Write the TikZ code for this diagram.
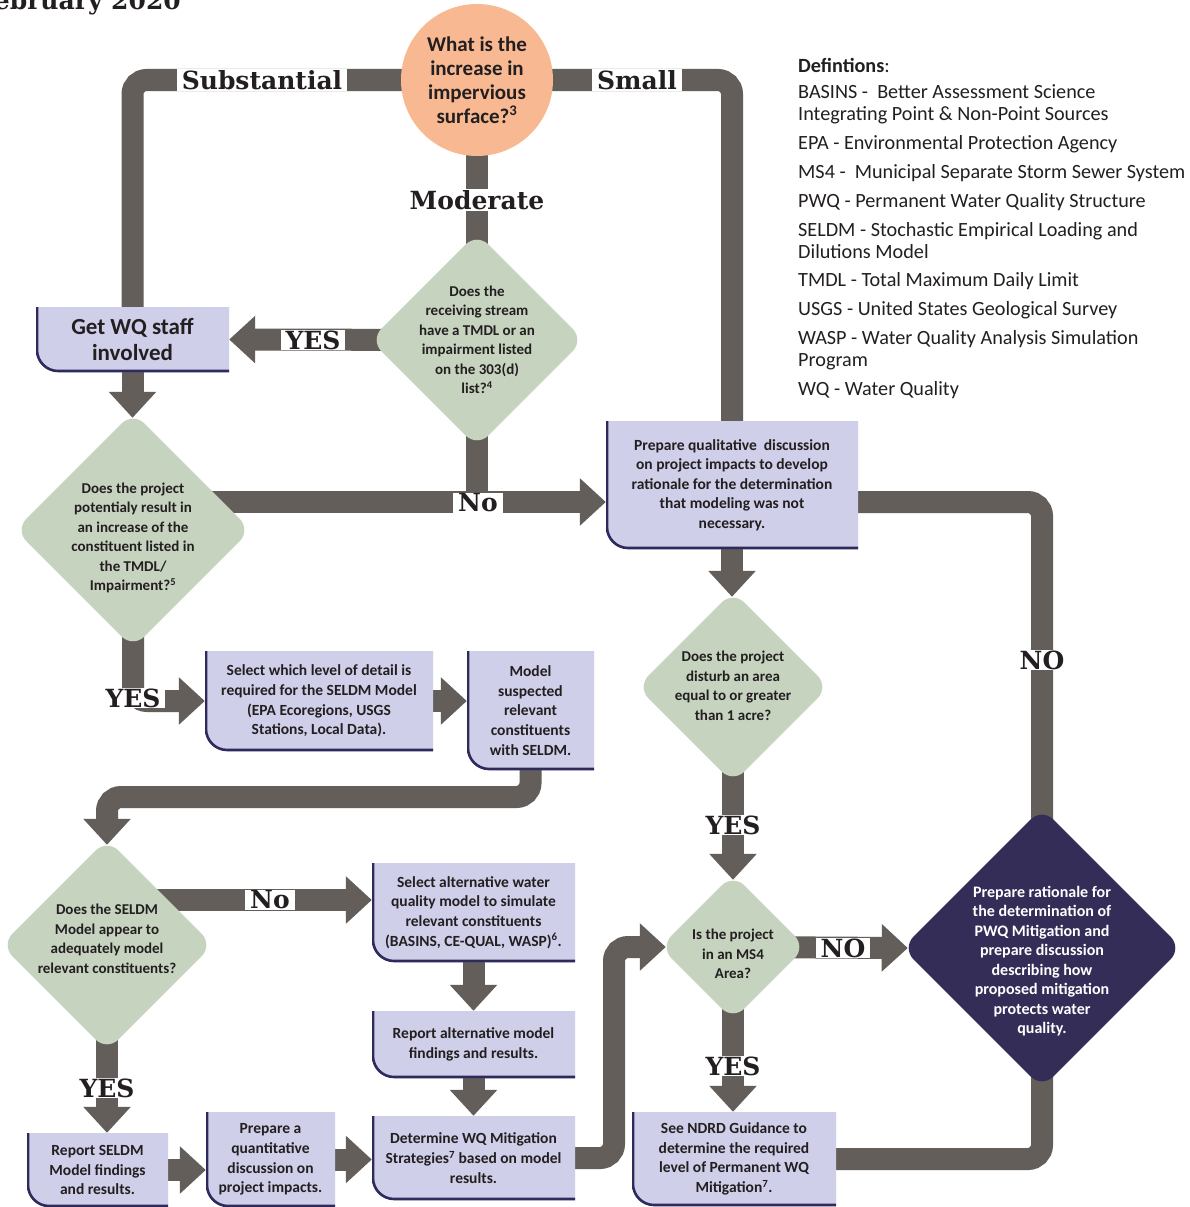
\documentclass[tikz,border=0pt]{standalone}
\usepackage{fontspec}
\setmainfont{Carlito}
\newfontfamily\slab{DejaVu Serif}
\usetikzlibrary{shapes.geometric,arrows.meta}
\pgfdeclarelayer{bg}
\pgfsetlayers{bg,main}
\definecolor{lineclr}{HTML}{635E59}
\definecolor{peach}{HTML}{F8B992}
\definecolor{sage}{HTML}{C6D3BF}
\definecolor{lav}{HTML}{CFCFE9}
\definecolor{navy}{HTML}{2E2A5C}
\definecolor{darkdia}{HTML}{342D57}
\definecolor{txt}{HTML}{231F20}
\tikzset{
  conn/.style={draw=lineclr, line width=22pt, rounded corners=14pt},
  arr/.style={conn, -{Triangle[width=46pt,length=26pt]}},
  lab/.style={fill=white, text=txt, font=\slab\bfseries\fontsize{25}{28}\selectfont, inner xsep=5pt, inner ysep=1pt},
  dia/.style={diamond, aspect=1, fill=sage, rounded corners=16pt, inner sep=0pt, minimum width=#1, minimum height=#1},
  dtext/.style={align=center, text=txt, font=\bfseries\fontsize{15}{19.5}\selectfont, inner sep=0pt},
  lbox/.style n args={2}{rectangle, inner sep=0pt, minimum width=#1, minimum height=#2, align=center, text=txt,
    font=\bfseries\fontsize{15.5}{19.6}\selectfont,
    path picture={
      \coordinate (nw) at (path picture bounding box.north west);
      \coordinate (ne) at (path picture bounding box.north east);
      \coordinate (se) at (path picture bounding box.south east);
      \coordinate (sw) at (path picture bounding box.south west);
      \fill[lav] (nw) -- (ne) -- (se) -- ([xshift=22pt]sw) .. controls ([xshift=9.85pt]sw) and ([yshift=9.85pt]sw) .. ([yshift=22pt]sw) -- cycle;
      \draw[navy, line width=2.6pt] ([xshift=1pt]nw) -- ([shift={(1pt,22pt)}]sw) .. controls ([shift={(1pt,10.5pt)}]sw) and ([shift={(10.5pt,1pt)}]sw) .. ([shift={(22pt,1pt)}]sw) -- ([yshift=1pt]se);
    }},
}
\begin{document}
\begin{tikzpicture}[x=1pt,y=-1pt]
\useasboundingbox (0,0) rectangle (1190,1207);

% title fragment
\node[anchor=base east, inner sep=0pt, text=txt, font=\slab\bfseries\fontsize{25}{30}\selectfont] (title) at (181,10) {February 2020};

% start circle
\node[circle, fill=peach, minimum size=152pt, inner sep=0pt, align=center, text=txt,
  font=\bfseries\fontsize{21}{24}\selectfont] (q0) at (477,80) {What is the\\increase in\\impervious\\surface?\textsuperscript{3}};

% diamonds
\node[dia=214pt] (d1) at (477,340) {};
\node[dtext] (d1t) at (477,340) {Does the\\receiving stream\\have a TMDL or an\\impairment listed\\on the 303(d)\\list?\textsuperscript{4}};
\node[dia=236pt] (d2) at (133,530) {};
\node[dtext] (d2t) at (133,538) {Does the project\\potentialy result in\\an increase of the\\constituent listed in\\the TMDL/\\Impairment?\textsuperscript{5}};
\node[dia=192pt] (d3) at (733,687) {};
\node[dtext] (d3t) at (733,686) {Does the project\\disturb an area\\equal to or greater\\than 1 acre?};
\node[dia=146pt] (d4) at (733,947) {};
\node[dtext] (d4t) at (733,954) {Is the project\\in an MS4\\Area?};
\node[dia=212pt] (d5) at (107,945) {};
\node[dtext] (d5t) at (107,939) {Does the SELDM\\Model appear to\\adequately model\\relevant constituents?};
\node[dia=280pt, fill=darkdia] (d6) at (1042,948) {};
\node[dtext, text=white, font=\bfseries\fontsize{16}{19.5}\selectfont] (d6t) at (1042,961) {Prepare rationale for\\the determination of\\PWQ Mitigation and\\prepare discussion\\describing how\\proposed mitigation\\protects water\\quality.};

% boxes
\node[lbox={193pt}{65pt}, font=\bfseries\fontsize{23}{26}\selectfont] (getwq) at (132.5,339.5) {Get WQ staff\\involved};
\node[lbox={252pt}{128pt}] (qual) at (732,485) {Prepare qualitative\ \ discussion\\on project impacts to develop\\rationale for the determination\\that modeling was not\\necessary.};
\node[lbox={228pt}{100pt}] (sel) at (319,701) {Select which level of detail is\\required for the SELDM Model\\(EPA Ecoregions, USGS\\Stations, Local Data).};
\node[lbox={127pt}{119pt}] (model) at (530.5,710.5) {Model\\suspected\\relevant\\constituents\\with SELDM.};
\node[lbox={203pt}{99pt}] (alt) at (473.5,912.5) {Select alternative water\\quality model to simulate\\relevant constituents\\(BASINS, CE-QUAL, WASP)\textsuperscript{6}.};
\node[lbox={203pt}{67pt}] (rep) at (473.5,1044.5) {Report alternative model\\findings and results.};
\node[lbox={203pt}{84pt}] (det) at (473.5,1158) {Determine WQ Mitigation\\Strategies\textsuperscript{7} based on model\\results.};
\node[lbox={141pt}{74pt}] (rsel) at (97.5,1170) {Report SELDM\\Model findings\\and results.};
\node[lbox={129pt}{95pt}] (pq) at (270.5,1159.5) {Prepare a\\quantitative\\discussion on\\project impacts.};
\node[lbox={204pt}{94pt}] (ndrd) at (734,1159) {See NDRD Guidance to\\determine the required\\level of Permanent WQ\\Mitigation\textsuperscript{7}.};

% helper coordinates
\coordinate (noj) at (477,502);
\coordinate (bend) at (107,797);
\coordinate (altin) at ([yshift=12.5pt]alt.west);
\coordinate (turn) at (614,1000);

% definitions
\node[anchor=north west, align=left, inner sep=0pt, text=txt, font=\fontsize{20.2}{22}\selectfont] (defs) at (798,58) {%
\textbf{Defintions}:\\[4pt]
BASINS -\ \ Better Assessment Science\\
Integrating Point \& Non-Point Sources\\[6.9pt]
EPA - Environmental Protection Agency\\[6.9pt]
MS4 -\ \ Municipal Separate Storm Sewer System\\[6.9pt]
PWQ - Permanent Water Quality Structure\\[6.9pt]
SELDM - Stochastic Empirical Loading and\\
Dilutions Model\\[6.9pt]
TMDL - Total Maximum Daily Limit\\[6.9pt]
USGS - United States Geological Survey\\[6.9pt]
WASP - Water Quality Analysis Simulation\\
Program\\[6.9pt]
WQ - Water Quality};

% connectors
\begin{pgfonlayer}{bg}
\fill[white] (0,0) rectangle (1190,1207);
\draw[conn] (q0.center) -| (getwq.north);
\draw[conn] (q0.center) -| (qual.north);
\draw[conn] (q0.center) -- (d1.center);
\draw[arr] (d1.center) -- (getwq.east);
\draw[arr, shorten >=-6pt] (getwq.south) -- (getwq.south |- d2.north);
\draw[conn] (d1.center) -- (noj);
\draw[arr] (d2.center |- noj) -- (noj -| qual.west);
\draw[conn] (noj -| qual.east) -| (d6.center);
\draw[arr, shorten >=-6pt] (qual.south) -- (qual.south |- d3.north);
\draw[arr, shorten >=-6pt] (d3.center) -- (d4.north);
\draw[arr, shorten >=-6pt] (d4.center) -- (d6.west);
\draw[arr] (d4.center) -- (d4.center |- ndrd.north);
\draw[conn] (d6.center) |- (ndrd.east);
\draw[arr] (d2.center) |- (sel.west);
\draw[arr] (sel.east) -- (sel.east -| model.west);
\draw[arr, shorten >=-6pt] (model.south) |- (bend) -- (d5.north);
\draw[arr] (d5.center |- altin) -- (altin);
\draw[arr] (alt.south) -- (rep.north);
\draw[arr] (rep.south) -- (det.north);
\draw[arr] (d5.center) -- (d5.center |- rsel.north);
\draw[arr] (rsel.east) -- (rsel.east -| pq.west);
\draw[arr] (pq.east) -- (pq.east -| det.west);
\draw[arr, shorten >=-6pt] (det.east) -| (turn) |- (d4.west);
\end{pgfonlayer}

% connector labels
\node[lab] (lsub) at (262,80) {Substantial};
\node[lab] (lsmall) at (637,80) {Small};
\node[lab] (lmod) at (477,200) {Moderate};
\node[lab] (lyes1) at (313,340) {YES};
\node[lab] (lno1) at (478,503) {No};
\node[lab] (lno2) at (1042,660) {NO};
\node[lab] (lyes2) at (133,698) {YES};
\node[lab] (lyes3) at (733,825) {YES};
\node[lab] (lno3) at (843,948) {NO};
\node[lab] (lyes4) at (733,1066) {YES};
\node[lab] (lno4) at (270,900) {No};
\node[lab] (lyes5) at (107,1088) {YES};
\end{tikzpicture}
\end{document}
